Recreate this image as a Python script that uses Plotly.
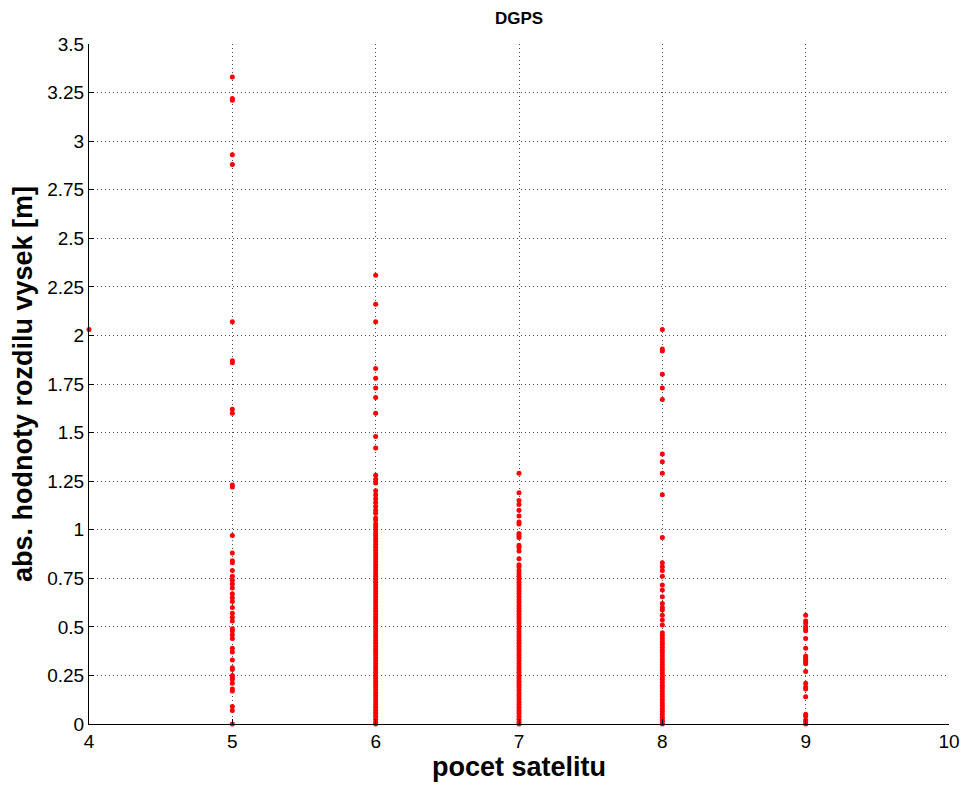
import plotly.graph_objects as go

# Absolute height differences [m] grouped by number of satellites in view
sat_counts = [4, 5, 6, 7, 8, 9]

diff_4 = [2.03]

diff_5 = [3.33, 3.22, 3.21, 2.93, 2.88, 2.07, 1.87, 1.86, 1.62, 1.60, 1.23, 1.22,
          0.97, 0.88, 0.84, 0.83, 0.79, 0.76, 0.74, 0.72, 0.70, 0.67, 0.65, 0.63,
          0.60, 0.57, 0.55, 0.53, 0.49, 0.48, 0.46, 0.44, 0.39, 0.37, 0.33, 0.29,
          0.28, 0.25, 0.24, 0.23, 0.21, 0.18, 0.17, 0.09, 0.07, 0.0]

diff_6 = [2.31, 2.16, 2.07, 1.83, 1.78, 1.73, 1.68, 1.60, 1.48, 1.42, 1.28, 1.26,
          1.24, 1.20, 1.18, 1.16, 1.14, 1.12, 1.10, 1.085, 1.06, 1.05, 1.03, 1.015,
          1.00, 0.985, 0.97, 0.955, 0.94, 0.925, 0.91, 0.895, 0.88, 0.865, 0.85,
          0.835, 0.82, 0.805, 0.79, 0.775, 0.76, 0.745, 0.73, 0.715, 0.70, 0.685,
          0.67, 0.655, 0.64, 0.625, 0.61, 0.595, 0.58, 0.565, 0.55, 0.535, 0.52,
          0.505, 0.49, 0.475, 0.46, 0.445, 0.43, 0.415, 0.40, 0.385, 0.37, 0.355,
          0.34, 0.325, 0.31, 0.295, 0.28, 0.265, 0.25, 0.235, 0.22, 0.205, 0.19,
          0.175, 0.16, 0.145, 0.13, 0.115, 0.10, 0.085, 0.07, 0.055, 0.04, 0.025,
          0.01, 0.0]

diff_7 = [1.29, 1.19, 1.15, 1.13, 1.10, 1.07, 1.04, 1.03, 0.98, 0.97, 0.96, 0.92,
          0.91, 0.89, 0.85, 0.82, 0.81, 0.79, 0.775, 0.76, 0.745, 0.73, 0.715,
          0.70, 0.685, 0.67, 0.655, 0.64, 0.625, 0.61, 0.595, 0.58, 0.565, 0.55,
          0.535, 0.52, 0.505, 0.49, 0.475, 0.46, 0.445, 0.43, 0.415, 0.40, 0.385,
          0.37, 0.355, 0.34, 0.325, 0.31, 0.295, 0.28, 0.265, 0.25, 0.235, 0.22,
          0.205, 0.19, 0.175, 0.16, 0.145, 0.13, 0.115, 0.10, 0.085, 0.07, 0.055,
          0.04, 0.025, 0.01, 0.0]

diff_8 = [2.03, 1.93, 1.92, 1.80, 1.73, 1.67, 1.39, 1.35, 1.29, 1.18, 0.96, 0.83,
          0.81, 0.79, 0.76, 0.715, 0.69, 0.655, 0.62, 0.60, 0.587, 0.56, 0.535,
          0.51, 0.47, 0.455, 0.44, 0.425, 0.41, 0.395, 0.38, 0.365, 0.35, 0.335,
          0.32, 0.305, 0.29, 0.275, 0.26, 0.245, 0.23, 0.215, 0.20, 0.185, 0.17,
          0.155, 0.14, 0.125, 0.11, 0.095, 0.08, 0.065, 0.05, 0.035, 0.02, 0.01,
          0.0]

diff_9 = [0.56, 0.53, 0.52, 0.50, 0.49, 0.48, 0.44, 0.39, 0.35, 0.34, 0.33, 0.32,
          0.31, 0.27, 0.21, 0.19, 0.18, 0.14, 0.05, 0.04, 0.02, 0.01, 0.0]

groups = [diff_4, diff_5, diff_6, diff_7, diff_8, diff_9]
xs, ys = [], []
for n, vals in zip(sat_counts, groups):
    xs.extend([n] * len(vals))
    ys.extend(vals)

x_ticks = [4, 5, 6, 7, 8, 9, 10]
y_ticks = [0, 0.25, 0.5, 0.75, 1, 1.25, 1.5, 1.75, 2, 2.25, 2.5, 2.75, 3, 3.25, 3.5]
y_tick_text = ["0", "0.25", "0.5", "0.75", "1", "1.25", "1.5", "1.75", "2",
               "2.25", "2.5", "2.75", "3", "3.25", "3.5"]

FONT = "Liberation Sans, Arial, sans-serif"

fig = go.Figure(go.Scatter(
    x=xs, y=ys, mode="markers",
    marker=dict(color="red", size=5, symbol="circle", line=dict(width=0)),
    showlegend=False, cliponaxis=False,
))

axis_common = dict(
    showline=True, linecolor="black", linewidth=1,
    ticks="inside", ticklen=5, tickcolor="black", tickwidth=1,
    showgrid=True, gridcolor="rgba(0,0,0,0.7)", griddash="1px,3px", gridwidth=1,
    zeroline=False, mirror=False,
    tickfont=dict(family=FONT, size=19, color="black"),
)

fig.update_layout(
    width=972, height=787,
    margin=dict(l=89, r=19, t=44, b=63),
    paper_bgcolor="white", plot_bgcolor="white",
    title=dict(text="<b>DGPS</b>", x=0.5, xref="paper", xanchor="center",
               y=0.977, yref="container", yanchor="middle",
               font=dict(family=FONT, size=17, color="black")),
    xaxis=dict(range=[4, 10], tickmode="array", tickvals=x_ticks,
               ticktext=[str(v) for v in x_ticks],
               title=dict(text="<b>pocet satelitu</b>", standoff=2,
                          font=dict(family=FONT, size=27, color="black")),
               **axis_common),
    yaxis=dict(range=[0, 3.5], tickmode="array", tickvals=y_ticks,
               ticktext=y_tick_text,
               title=dict(text="<b>abs. hodnoty rozdilu vysek [m]</b>", standoff=6,
                          font=dict(family=FONT, size=27, color="black")),
               **axis_common),
)

fig.write_html("out.html")
